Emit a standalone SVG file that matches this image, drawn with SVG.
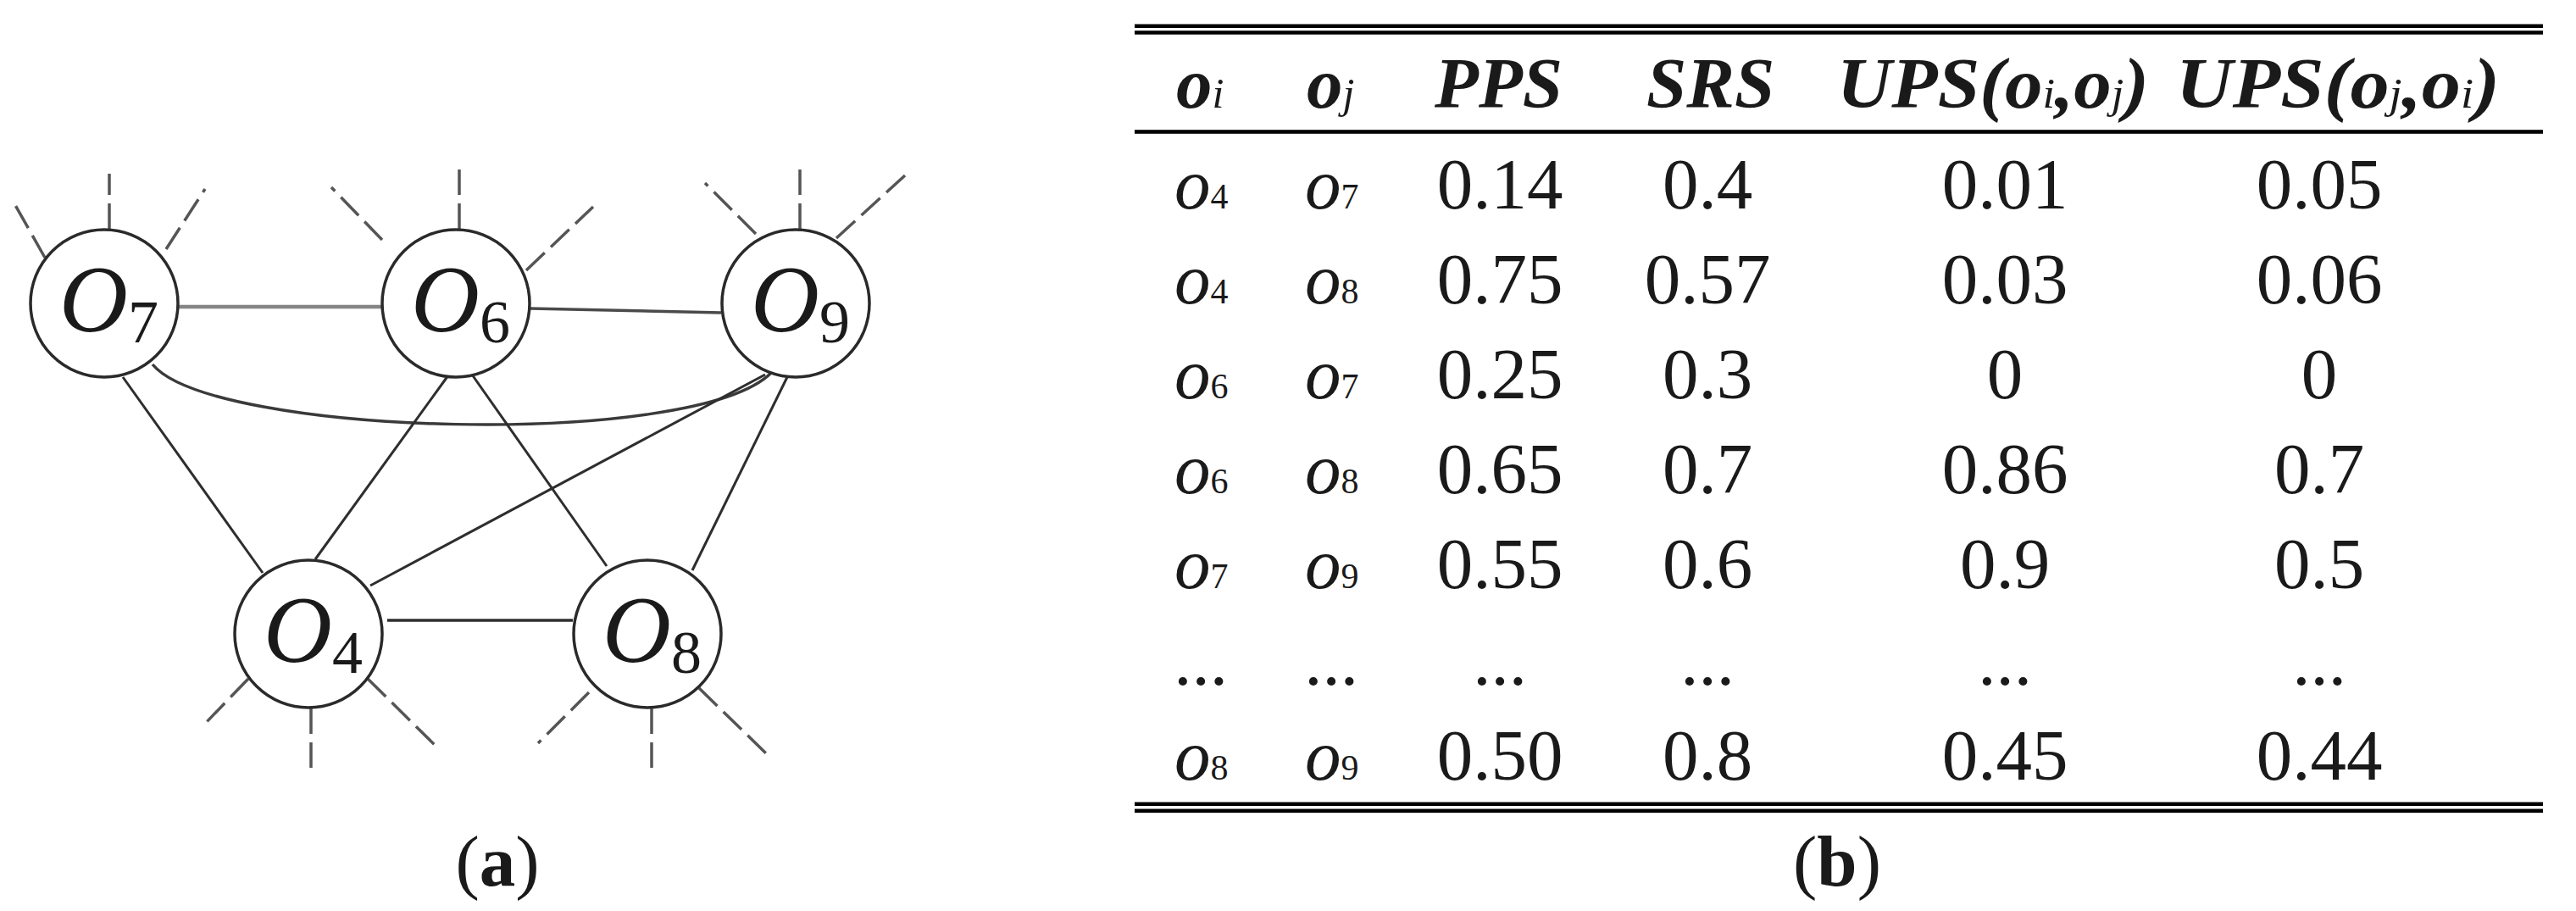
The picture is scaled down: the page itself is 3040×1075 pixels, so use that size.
<svg xmlns="http://www.w3.org/2000/svg" width="3040" height="1075" viewBox="0 0 3040 1075">
<style>
  .node circle { fill: #fff; stroke: #2a2a2a; stroke-width: 3.5; }
  .lbl { font-family: "Liberation Serif", "Times New Roman", serif; font-style: italic; font-size: 112px; fill: #1a1a1a; }
  .sub { font-style: normal; font-size: 72px; }
  .edge { stroke: #2e2e2e; stroke-width: 3; fill: none; }
  .stub { stroke: #555; stroke-width: 3.5; stroke-dasharray: 30 10; fill: none; }
  .t { font-family: "Liberation Serif", "Times New Roman", serif; font-size: 85px; fill: #1a1a1a; }
  .hd { font-weight: bold; font-style: italic; }
  .hs { font-weight: normal; font-style: italic; font-size: 50px; }
  .oi { font-style: italic; }
  .ds { font-style: normal; font-size: 42px; }
  .num { text-anchor: middle; }
  .rule { fill: #000; }
</style>

<g id="connectors">
  <line class="edge" x1="210" y1="362" x2="450" y2="362" style="stroke:#858585;stroke-width:4.5"/>
  <line class="edge" x1="626" y1="364" x2="851" y2="369" style="stroke:#4a4a4a;stroke-width:3.5"/>
  <path class="edge" d="M180,430 C250,515 820,530 910,440" style="stroke:#3a3a3a;stroke-width:3.5"/>
  <line class="edge" x1="903" y1="442" x2="437" y2="691"/>
  <line class="edge" x1="145" y1="445" x2="310" y2="676"/>
  <line class="edge" x1="529" y1="443" x2="372" y2="660"/>
  <line class="edge" x1="557" y1="442" x2="716" y2="668"/>
  <line class="edge" x1="929" y1="445" x2="817" y2="673"/>
  <line class="edge" x1="457" y1="732" x2="676" y2="732" style="stroke-width:3.5"/>
  <!-- dashed stubs -->
  <line class="stub" x1="129" y1="270" x2="129" y2="205"/>
  <line class="stub" x1="53" y1="304" x2="14" y2="235"/>
  <line class="stub" x1="196" y1="294" x2="242" y2="223"/>
  <line class="stub" x1="542" y1="270" x2="542" y2="190"/>
  <line class="stub" x1="451" y1="283" x2="391" y2="221"/>
  <line class="stub" x1="621" y1="319" x2="700" y2="244"/>
  <line class="stub" x1="944" y1="270" x2="944" y2="195"/>
  <line class="stub" x1="892" y1="276" x2="832" y2="216"/>
  <line class="stub" x1="987" y1="281" x2="1068" y2="207"/>
  <line class="stub" x1="367" y1="836" x2="367" y2="912"/>
  <line class="stub" x1="293" y1="801" x2="238" y2="858"/>
  <line class="stub" x1="434" y1="801" x2="515" y2="881"/>
  <line class="stub" x1="769" y1="836" x2="769" y2="912"/>
  <line class="stub" x1="695" y1="817" x2="635" y2="877"/>
  <line class="stub" x1="825" y1="812" x2="905" y2="890"/>
</g>

<g id="node-o7" class="node">
  <circle cx="123" cy="358" r="87"/>
  <text class="lbl" x="70" y="391">O<tspan class="sub" dy="13">7</tspan></text>
</g>
<g id="node-o6" class="node">
  <circle cx="538" cy="358" r="87"/>
  <text class="lbl" x="485" y="391">O<tspan class="sub" dy="13">6</tspan></text>
</g>
<g id="node-o9" class="node">
  <circle cx="939" cy="358" r="87"/>
  <text class="lbl" x="886" y="391">O<tspan class="sub" dy="13">9</tspan></text>
</g>
<g id="node-o4" class="node">
  <circle cx="364" cy="748" r="87"/>
  <text class="lbl" x="311" y="781">O<tspan class="sub" dy="13">4</tspan></text>
</g>
<g id="node-o8" class="node">
  <circle cx="764" cy="748" r="87"/>
  <text class="lbl" x="711" y="781">O<tspan class="sub" dy="13">8</tspan></text>
</g>

<text class="t" x="587" y="1045" text-anchor="middle">(<tspan font-weight="bold">a</tspan>)</text>

<g id="table">
  <rect class="rule" x="1339" y="28.5" width="1662" height="4.5"/>
  <rect class="rule" x="1339" y="36.2" width="1662" height="4.5"/>
  <rect class="rule" x="1339" y="153.2" width="1662" height="4.6"/>
  <rect class="rule" x="1339" y="946.5" width="1662" height="4.5"/>
  <rect class="rule" x="1339" y="954.5" width="1662" height="4.5"/>

  <text class="t hd" x="1388" y="127">o<tspan class="hs">i</tspan></text>
  <text class="t hd" x="1542" y="127">o<tspan class="hs">j</tspan></text>
  <text class="t hd" x="1693" y="127">PPS</text>
  <text class="t hd" x="1943" y="127">SRS</text>
  <text class="t hd" x="2168" y="127" textLength="368" lengthAdjust="spacingAndGlyphs">UPS(o<tspan class="hs">i</tspan>,o<tspan class="hs">j</tspan>)</text>
  <text class="t hd" x="2568" y="127" textLength="382" lengthAdjust="spacingAndGlyphs">UPS(o<tspan class="hs">j</tspan>,o<tspan class="hs">i</tspan>)</text>

  <g id="row1">
    <text class="t oi" x="1386" y="246">o<tspan class="ds">4</tspan></text>
    <text class="t oi" x="1540" y="246">o<tspan class="ds">7</tspan></text>
    <text class="t num" x="1770" y="246">0.14</text>
    <text class="t num" x="2015" y="246">0.4</text>
    <text class="t num" x="2366" y="246">0.01</text>
    <text class="t num" x="2737" y="246">0.05</text>
  </g>
  <g id="row2">
    <text class="t oi" x="1386" y="358">o<tspan class="ds">4</tspan></text>
    <text class="t oi" x="1540" y="358">o<tspan class="ds">8</tspan></text>
    <text class="t num" x="1770" y="358">0.75</text>
    <text class="t num" x="2015" y="358">0.57</text>
    <text class="t num" x="2366" y="358">0.03</text>
    <text class="t num" x="2737" y="358">0.06</text>
  </g>
  <g id="row3">
    <text class="t oi" x="1386" y="470">o<tspan class="ds">6</tspan></text>
    <text class="t oi" x="1540" y="470">o<tspan class="ds">7</tspan></text>
    <text class="t num" x="1770" y="470">0.25</text>
    <text class="t num" x="2015" y="470">0.3</text>
    <text class="t num" x="2366" y="470">0</text>
    <text class="t num" x="2737" y="470">0</text>
  </g>
  <g id="row4">
    <text class="t oi" x="1386" y="582">o<tspan class="ds">6</tspan></text>
    <text class="t oi" x="1540" y="582">o<tspan class="ds">8</tspan></text>
    <text class="t num" x="1770" y="582">0.65</text>
    <text class="t num" x="2015" y="582">0.7</text>
    <text class="t num" x="2366" y="582">0.86</text>
    <text class="t num" x="2737" y="582">0.7</text>
  </g>
  <g id="row5">
    <text class="t oi" x="1386" y="694">o<tspan class="ds">7</tspan></text>
    <text class="t oi" x="1540" y="694">o<tspan class="ds">9</tspan></text>
    <text class="t num" x="1770" y="694">0.55</text>
    <text class="t num" x="2015" y="694">0.6</text>
    <text class="t num" x="2366" y="694">0.9</text>
    <text class="t num" x="2737" y="694">0.5</text>
  </g>
  <g id="row6">
    <text class="t num" x="1417" y="808">...</text>
    <text class="t num" x="1571" y="808">...</text>
    <text class="t num" x="1770" y="808">...</text>
    <text class="t num" x="2015" y="808">...</text>
    <text class="t num" x="2366" y="808">...</text>
    <text class="t num" x="2737" y="808">...</text>
  </g>
  <g id="row7">
    <text class="t oi" x="1386" y="920">o<tspan class="ds">8</tspan></text>
    <text class="t oi" x="1540" y="920">o<tspan class="ds">9</tspan></text>
    <text class="t num" x="1770" y="920">0.50</text>
    <text class="t num" x="2015" y="920">0.8</text>
    <text class="t num" x="2366" y="920">0.45</text>
    <text class="t num" x="2737" y="920">0.44</text>
  </g>
</g>

<text class="t" x="2168" y="1045" text-anchor="middle">(<tspan font-weight="bold">b</tspan>)</text>
</svg>
